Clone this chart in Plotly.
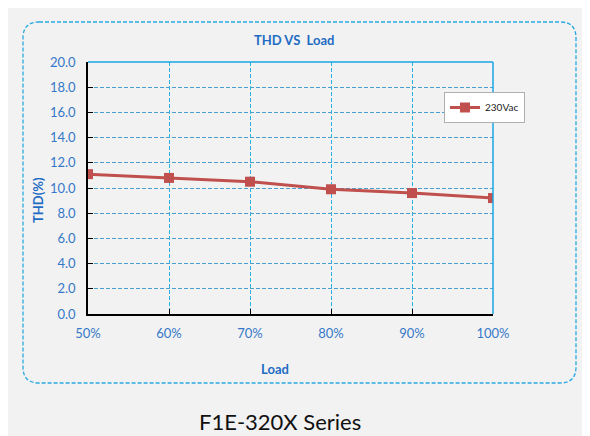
import plotly.graph_objects as go

loads = ["50%", "60%", "70%", "80%", "90%", "100%"]
thd_230 = [11.1, 10.8, 10.5, 9.9, 9.6, 9.2]
series_name = "230Vac"
y_ticks = [0, 2, 4, 6, 8, 10, 12, 14, 16, 18, 20]

BLUE_TXT = "#3578c8"
FONT = "Lato"

fig = go.Figure()
fig.add_trace(go.Scatter(
    x=list(range(len(loads))), y=thd_230, name=series_name, mode="lines+markers",
    line=dict(color="#c0504d", width=3),
    marker=dict(symbol="square", size=10, color="#c0504d"),
))

OFF = 8  # page body margin
W, H = 590 - OFF, 436 - OFF
L, R, T, B = 88 - OFF, 493 - OFF, 62 - OFF, 314 - OFF
pw, ph = R - L, B - T

def px(x):
    return (x - OFF - L) / pw

def py(y):
    return (B - (y - OFF)) / ph

# rounded dashed frame
x0, x1, y0, y1 = px(23), px(576), py(383), py(22)
rx, ry = 16 / pw, 16 / ph
path = (f"M {x0+rx},{y1} L {x1-rx},{y1} Q {x1},{y1} {x1},{y1-ry} "
        f"L {x1},{y0+ry} Q {x1},{y0} {x1-rx},{y0} L {x0+rx},{y0} "
        f"Q {x0},{y0} {x0},{y0+ry} L {x0},{y1-ry} Q {x0},{y1} {x0+rx},{y1} Z")

shapes = [
    dict(type="path", xref="paper", yref="paper", path=path,
         line=dict(color="#29a9e0", width=1.3, dash="4px,2px"), layer="below"),
    dict(type="line", xref="paper", yref="paper", x0=0, x1=1, y0=1, y1=1,
         line=dict(color="#1aa6e4", width=1.5)),
    dict(type="line", xref="paper", yref="paper", x0=1, x1=1, y0=0, y1=1,
         line=dict(color="#1aa6e4", width=1.5)),
]

def ann(text, x, y, size, color="#1f6cc4", angle=0):
    return dict(text=text, xref="paper", yref="paper", x=px(x), y=py(y),
                xanchor="center", yanchor="middle", showarrow=False,
                textangle=angle, font=dict(family=FONT, size=size, color=color))

annotations = [
    ann("<b>THD VS  Load</b>", 294, 40, 13),
    ann("<b>THD(%)</b>", 38, 200, 13, angle=-90),
    ann("<b>Load</b>", 275, 369, 13),
    ann("F1E-320X Series", 280, 421, 22, color="#111111"),
]

fig.update_layout(
    width=W, height=H,
    margin=dict(l=L, r=W - R, t=T, b=H - B),
    paper_bgcolor="#f2f2f2", plot_bgcolor="#f2f2f2",
    showlegend=True,
    legend=dict(x=px(444), y=py(92), xanchor="left", yanchor="top",
                bgcolor="#ffffff", bordercolor="#b0b0b0", borderwidth=1,
                font=dict(family=FONT, size=10, color="#222222"),
                itemwidth=30, tracegroupgap=0),
    xaxis=dict(
        range=[0, len(loads) - 1], tickmode="array",
        tickvals=list(range(len(loads))), ticktext=loads,
        showline=True, linecolor="#000000", linewidth=1.5,
        ticks="inside", ticklen=5, tickcolor="#000000",
        showgrid=True, gridcolor="#2ab0e6", griddash="4px,2px", gridwidth=1,
        tickfont=dict(family=FONT, size=13, color=BLUE_TXT),
        ticklabelstandoff=7, zeroline=False, fixedrange=True,
    ),
    yaxis=dict(
        range=[0, 20], tickmode="array", tickvals=y_ticks,
        ticktext=[f"{v:.1f}" for v in y_ticks],
        showline=True, linecolor="#000000", linewidth=1.5,
        ticks="inside", ticklen=5, tickcolor="#000000",
        showgrid=True, gridcolor="#4a9fcc", griddash="4px,2px", gridwidth=1.2,
        tickfont=dict(family=FONT, size=13, color=BLUE_TXT),
        ticklabelstandoff=8, zeroline=False, fixedrange=True,
    ),
    shapes=shapes,
    annotations=annotations,
)

fig.write_html("out.html")
